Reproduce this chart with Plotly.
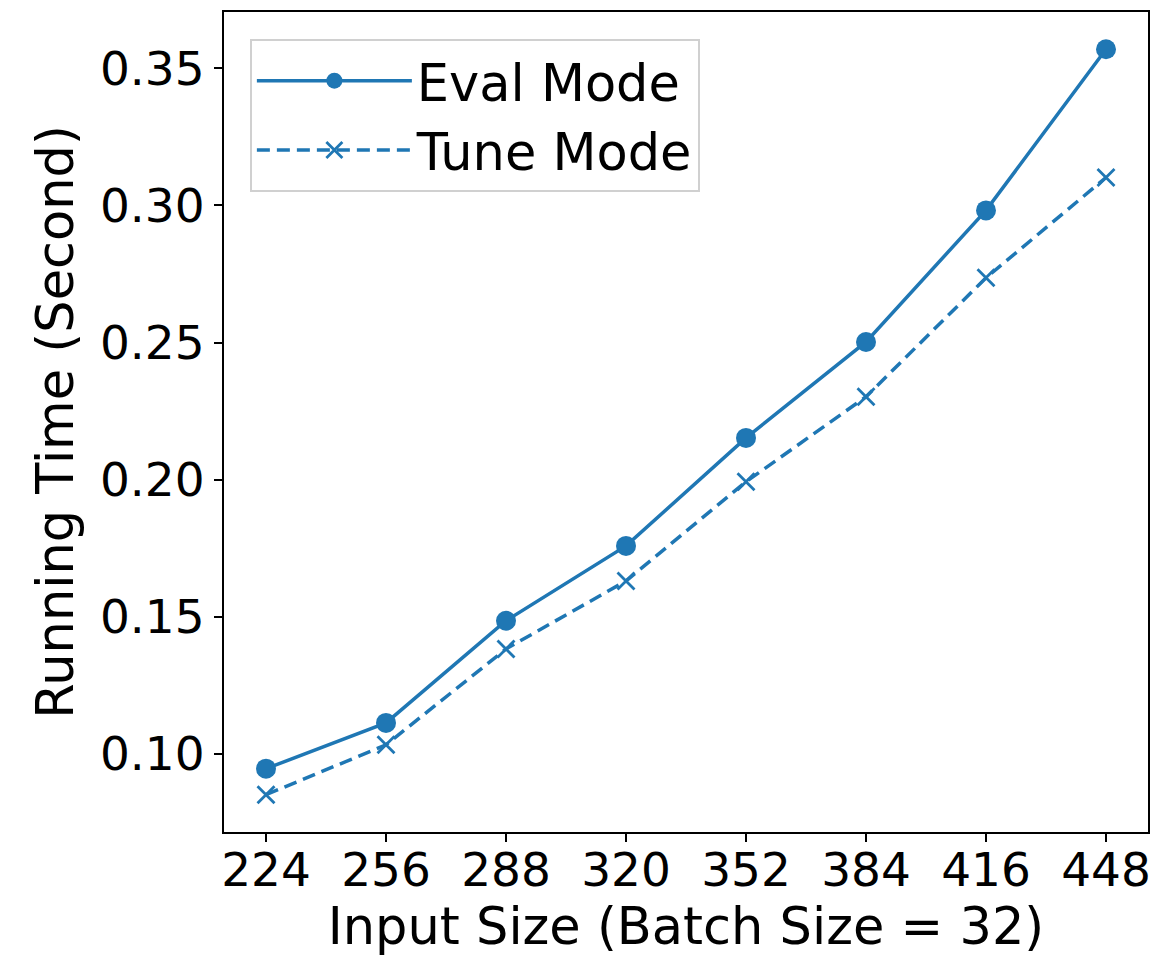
import plotly.graph_objects as go

input_sizes = [224, 256, 288, 320, 352, 384, 416, 448]
eval_mode = [0.0945, 0.1112, 0.1485, 0.1758, 0.2152, 0.2502, 0.2982, 0.3570]
tune_mode = [0.0850, 0.1032, 0.1382, 0.1630, 0.1992, 0.2302, 0.2736, 0.3102]
x_ticks = [224, 256, 288, 320, 352, 384, 416, 448]
y_ticks = [0.10, 0.15, 0.20, 0.25, 0.30, 0.35]

color = "#1f77b4"
font = "DejaVu Sans, Arial, sans-serif"

fig = go.Figure()
fig.add_trace(go.Scatter(
    x=input_sizes, y=eval_mode, name="Eval Mode", mode="lines+markers",
    line=dict(color=color, width=3.5),
    marker=dict(symbol="circle", size=20, color=color),
))
fig.add_trace(go.Scatter(
    x=input_sizes, y=tune_mode, name="Tune Mode", mode="lines+markers",
    line=dict(color=color, width=3.5, dash="13px,7px"),
    marker=dict(symbol="x-thin", size=17, color=color, line=dict(color=color, width=2.8)),
))

axis_common = dict(
    showline=True, linecolor="black", linewidth=2, mirror=True,
    ticks="outside", ticklen=8, tickwidth=2, tickcolor="black",
    showgrid=False, zeroline=False,
    tickfont=dict(size=47, color="black", family=font),
)

fig.update_layout(
    width=1155, height=954,
    margin=dict(l=216, r=15, t=2, b=130),
    paper_bgcolor="white", plot_bgcolor="white",
    font=dict(family=font, color="black"),
    showlegend=True,
    legend=dict(
        x=0.028, y=0.967, xanchor="left", yanchor="top",
        bgcolor="white", bordercolor="#d0d0d0", borderwidth=2,
        font=dict(size=51, color="black", family=font),
        itemwidth=155, tracegroupgap=6,
    ),
    xaxis=dict(
        range=[212.8, 459.2], tickvals=x_ticks, ticktext=[str(v) for v in x_ticks],
        ticklabelstandoff=-12,
        title=dict(text="Input Size (Batch Size = 32)", font=dict(size=51, family=font), standoff=8),
        **axis_common,
    ),
    yaxis=dict(
        range=[0.0714, 0.3706], tickvals=y_ticks, ticktext=[f"{v:.2f}" for v in y_ticks],
        title=dict(text="Running Time (Second)", font=dict(size=51, family=font), standoff=10),
        **axis_common,
    ),
)

fig.write_html("out.html")
